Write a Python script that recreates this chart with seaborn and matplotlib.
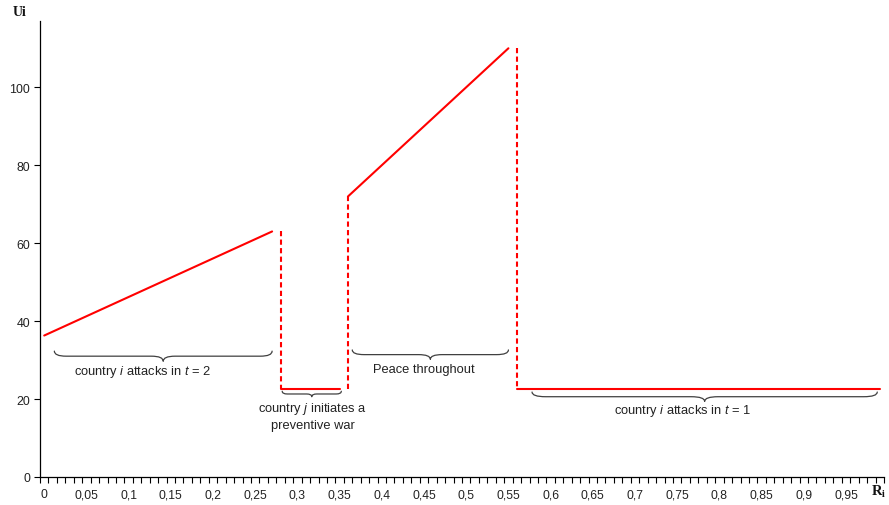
import matplotlib
matplotlib.use("Agg")
import numpy as np
import pandas as pd
import matplotlib.pyplot as plt
from matplotlib.path import Path
from matplotlib.patches import PathPatch
import seaborn as sns

# Straight runs of the payoff curve U_i(R_i): start and end of each run
seg_r0 = [0.00, 0.28, 0.36, 0.56]
seg_r1 = [0.27, 0.35, 0.55, 0.99]
seg_u0 = [36.3, 22.5, 72.0, 22.5]
seg_u1 = [63.0, 22.5, 110.0, 22.5]

# Jumps between the runs (dashed verticals)
jump_r = [0.28, 0.36, 0.56]
jump_u0 = [63.0, 22.5, 110.0]
jump_u1 = [22.5, 72.0, 22.5]

# Axis ticks
x_major = [round(0.05 * k, 2) for k in range(20)]
x_labels = ["0", "0,05", "0,1", "0,15", "0,2", "0,25", "0,3", "0,35", "0,4", "0,45",
            "0,5", "0,55", "0,6", "0,65", "0,7", "0,75", "0,8", "0,85", "0,9", "0,95"]
y_ticks = [0, 20, 40, 60, 80, 100]
y_labels = ["0", "20", "40", "60", "80", "100"]

# Regime labels and the span each brace covers
region_text = [
    r"country $i$ attacks in $t$ = 2",
    "country $j$ initiates a\npreventive war",
    "Peace throughout",
    r"country $i$ attacks in $t$ = 1",
]
brace_r0 = [0.012, 0.282, 0.365, 0.578]
brace_r1 = [0.270, 0.352, 0.550, 0.987]

sns.set_theme(style="white")
plt.rcParams["font.family"] = ["Liberation Sans", "DejaVu Sans"]
plt.rcParams["mathtext.fontset"] = "custom"
plt.rcParams["mathtext.rm"] = "Liberation Sans"
plt.rcParams["mathtext.it"] = "Liberation Sans:italic"
plt.rcParams["mathtext.bf"] = "Liberation Serif:bold"

fig = plt.figure(figsize=(8.89, 5.06), dpi=100)
ax = fig.add_axes([40 / 889, 28 / 506, 844 / 889, 456 / 506])

red = "#ff0000"

solid = pd.DataFrame({
    "R": seg_r0 + seg_r1,
    "U": seg_u0 + seg_u1,
    "seg": list(range(4)) * 2,
})
sns.lineplot(data=solid, x="R", y="U", units="seg", estimator=None,
             color=red, lw=1.5, ax=ax, sort=True)
n_solid = len(ax.lines)

jumps = pd.DataFrame({
    "R": jump_r + jump_r,
    "U": jump_u0 + jump_u1,
    "seg": list(range(3)) * 2,
})
sns.lineplot(data=jumps, x="R", y="U", units="seg", estimator=None,
             color=red, lw=1.5, ax=ax, sort=False)
for line in ax.lines[n_solid:]:
    line.set_dashes((2.5, 1.6))

ax.set_xlim(-0.005, 0.995)
ax.set_ylim(0, 117)

# category-style axis: labels on the values, tick marks between them
ax.set_xticks(x_major)
ax.set_xticklabels(x_labels)
ax.set_xticks([-0.005 + 0.01 * k for k in range(101)], minor=True)
ax.tick_params(axis="x", which="major", length=0, pad=8, labelsize=8.7,
               labelcolor="#222222")
ax.tick_params(axis="x", which="minor", length=4, width=0.8, color="black",
               direction="out", bottom=True)
ax.set_yticks(y_ticks)
ax.set_yticklabels(y_labels)
ax.tick_params(axis="y", length=4, width=0.8, color="black", direction="out",
               left=True, labelsize=8.9, labelcolor="#222222", pad=3)

for side in ("top", "right"):
    ax.spines[side].set_visible(False)
for side in ("left", "bottom"):
    ax.spines[side].set_color("black")
    ax.spines[side].set_linewidth(0.9)
ax.set_xlabel("")
ax.set_ylabel("")


def brace(ax, x0, x1, y_top, depth, rx):
    xm = 0.5 * (x0 + x1)
    ym = y_top - 0.5 * depth
    yt = y_top - depth
    verts = [
        (x0, y_top), (x0, ym), (x0 + rx, ym),
        (xm - rx, ym),
        (xm, ym), (xm, yt),
        (xm, ym), (xm + rx, ym),
        (x1 - rx, ym),
        (x1, ym), (x1, y_top),
    ]
    codes = [Path.MOVETO, Path.CURVE3, Path.CURVE3, Path.LINETO,
             Path.CURVE3, Path.CURVE3, Path.CURVE3, Path.CURVE3,
             Path.LINETO, Path.CURVE3, Path.CURVE3]
    ax.add_patch(PathPatch(Path(verts, codes), fill=False, ec="#404040",
                           lw=0.9, capstyle="round", joinstyle="round"))


brace_top = [32.3, 22.0, 32.6, 21.8]
brace_depth = [2.6, 1.4, 2.4, 2.4]
brace_rx = [0.014, 0.006, 0.014, 0.016]
for r0, r1, yt, d, rx in zip(brace_r0, brace_r1, brace_top, brace_depth, brace_rx):
    brace(ax, r0, r1, yt, d, rx)

text_x = [0.117, 0.318, 0.450, 0.756]
text_y = [27.3, 15.8, 27.7, 17.3]
for s, tx, ty in zip(region_text, text_x, text_y):
    ax.text(tx, ty, s, ha="center", va="center", fontsize=9.3,
            color="#222222", linespacing=1.3)

fig.text(20 / 889, 1 - 13 / 506, "Ui", ha="center", va="center",
         fontsize=10, fontweight="bold", family="Liberation Serif", color="#111111")
fig.text(879 / 889, 1 - 492 / 506, r"$\mathbf{R_i}$", ha="center", va="center",
         fontsize=10.5, color="#111111")

fig.savefig("out.png", dpi=100, facecolor="white")
